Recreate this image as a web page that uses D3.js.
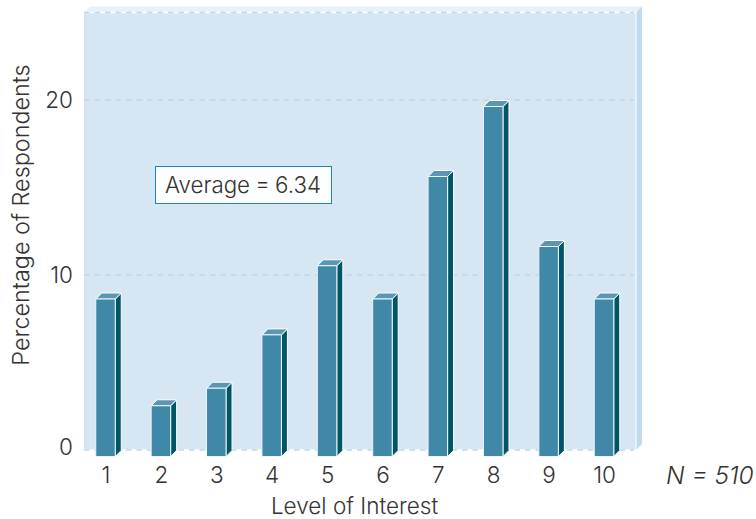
<!DOCTYPE html>
<html><head><meta charset="utf-8">
<script src="https://cdn.jsdelivr.net/npm/d3@7/dist/d3.min.js"></script>
<style>
html,body{margin:0;padding:0;background:#fff}
svg{display:block}
text{font-family:Inter,"Liberation Sans",sans-serif;font-weight:300;fill:#333}
</style></head><body>
<script>
const categories=[1,2,3,4,5,6,7,8,9,10];
const percentages=[9,2.9,3.9,6.95,10.9,9,16,20,12,9];
const yTicks=[0,10,20];
const yMax=25;
const averageLabel="Average = 6.34";
const nLabel="N = 510";
const xTitle="Level of Interest";
const yTitle="Percentage of Respondents";

const W=756,H=519,depth=6,barW=19.5,front=6.5;
const svg=d3.select("body").append("svg").attr("width",W).attr("height",H);
const y=d3.scaleLinear().domain([0,yMax]).range([450,12.5]);
const x=d3.scalePoint().domain(categories).range([105.5,604]);
const L=84,R=636;

svg.append("polygon").attr("fill","#e6f1f8")
 .attr("points",[[L,y(yMax)],[L+depth,y(yMax)-depth],[R+depth,y(yMax)-depth],[R,y(yMax)]].join(" "));
svg.append("polygon").attr("fill","#c2daee")
 .attr("points",[[R,y(yMax)],[R+depth,y(yMax)-depth],[R+depth,y(0)-depth],[R,y(0)]].join(" "));
svg.append("rect").attr("x",L).attr("y",y(yMax)).attr("width",R-L).attr("height",y(0)-y(yMax)).attr("fill","#d6e6f3");
svg.append("line").attr("x1",R).attr("x2",R).attr("y1",y(yMax)).attr("y2",y(0)).attr("stroke","#fff").attr("stroke-width",1);

[0,yMax].forEach(v=>{
 svg.append("line").attr("x1",L).attr("x2",R).attr("y1",y(v)).attr("y2",y(v)).attr("stroke","#fff").attr("stroke-width",1.5);
});
[...yTicks,yMax].forEach(v=>{
 svg.append("line").attr("x1",L).attr("x2",R-2).attr("y1",y(v)).attr("y2",y(v))
  .attr("stroke","#b8daec").attr("stroke-width",1.5).attr("stroke-dasharray","5.5 5");
});

const bars=svg.append("g").selectAll("g").data(categories.map((c,i)=>({c,v:percentages[i]}))).join("g");
const bx=d=>x(d.c)-barW/2;
const topY=d=>y(d.v)+front, botY=y(0)+front;
bars.append("polygon").attr("fill","#005566").attr("stroke","#fff").attr("stroke-width",1).attr("stroke-linejoin","round")
 .attr("points",d=>[[bx(d)+barW,topY(d)],[bx(d)+barW+depth,topY(d)-depth],[bx(d)+barW+depth,botY-depth],[bx(d)+barW,botY]].join(" "));
bars.append("polygon").attr("fill","#5b97b5").attr("stroke","#fff").attr("stroke-width",1).attr("stroke-linejoin","round")
 .attr("points",d=>[[bx(d),topY(d)],[bx(d)+depth,topY(d)-depth],[bx(d)+barW+depth,topY(d)-depth],[bx(d)+barW,topY(d)]].join(" "));
bars.append("rect").attr("fill","#3f88a8").attr("stroke","#edf5f9").attr("stroke-width",1)
 .attr("x",bx).attr("y",topY).attr("width",barW).attr("height",d=>botY-topY(d));

const gy=svg.append("g").attr("transform","translate(73,0)")
 .call(d3.axisLeft(y).tickValues(yTicks).tickSize(0).tickPadding(0));
gy.select(".domain").remove();
gy.selectAll("text").style("font-size","22.5px").attr("fill","#333").attr("dy","0.33em");
gy.selectAll(".tick text").filter(d=>d===0).attr("dy","0.2em");
const gx=svg.append("g").attr("transform","translate(0,476)")
 .call(d3.axisBottom(x).tickSize(0).tickPadding(0));
gx.select(".domain").remove();
gx.selectAll("text").style("font-size","22.5px").attr("fill","#333").attr("y",0).attr("dy","0.33em");

svg.append("text").attr("x",354.5).attr("y",514).attr("text-anchor","middle").style("font-size","22.5px").text(xTitle);
svg.append("text").attr("transform","translate(29,215) rotate(-90)").attr("text-anchor","middle").style("font-size","23.4px").text(yTitle);
svg.append("text").attr("x",666).attr("y",484).style("font-size","24.5px").style("font-style","italic").text(nLabel);

svg.append("rect").attr("x",155.5).attr("y",166.5).attr("width",176).attr("height",37).attr("fill","#fff").attr("stroke","#1a85c0").attr("stroke-width",1);
svg.append("text").attr("x",165).attr("y",192.5).style("font-size","22.3px").style("word-spacing","-1px").text(averageLabel);
</script>
</body></html>
